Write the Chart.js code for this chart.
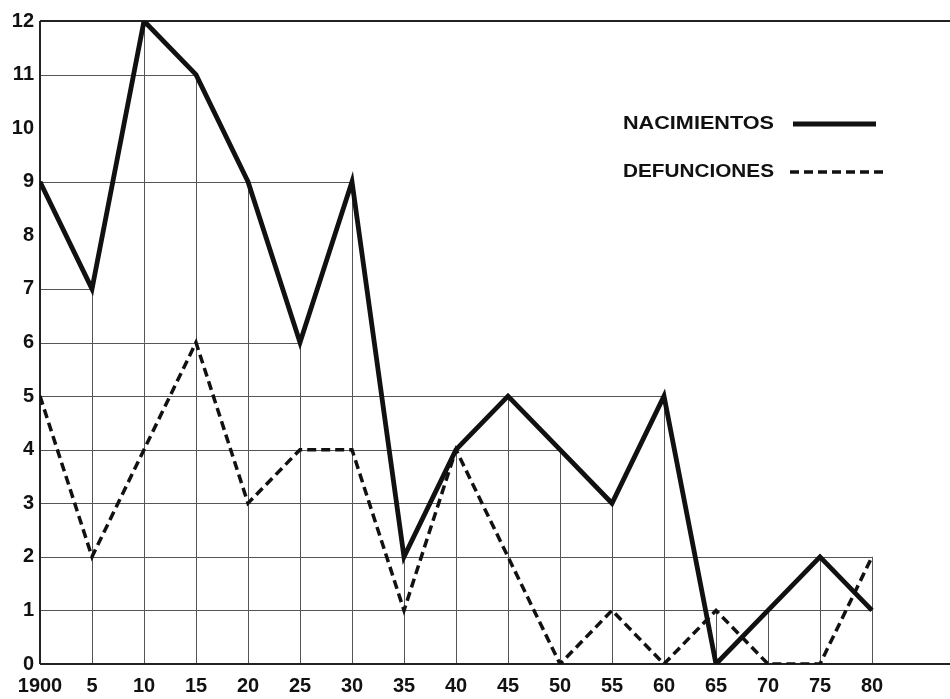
<!DOCTYPE html>
<html>
<head>
<meta charset="utf-8">
<script src="https://cdn.jsdelivr.net/npm/chart.js@4/dist/chart.umd.min.js"></script>
<style>
  html, body { margin: 0; padding: 0; background: #fff; }
  #wrap { width: 950px; height: 699px; position: relative; }
</style>
</head>
<body>
<div id="wrap"><canvas id="chart"></canvas></div>
<script>
// values
var years = [1900, 1905, 1910, 1915, 1920, 1925, 1930, 1935, 1940, 1945, 1950, 1955, 1960, 1965, 1970, 1975, 1980];
var yearLabels = ["1900", "5", "10", "15", "20", "25", "30", "35", "40", "45", "50", "55", "60", "65", "70", "75", "80"];
var nacimientos = [9, 7, 12, 11, 9, 6, 9, 2, 4, 5, 4, 3, 5, 0, 1, 2, 1];
var defunciones = [5, 2, 4, 6, 3, 4, 4, 1, 4, 2, 0, 1, 0, 1, 0, 0, 2];
var yTicks = [0, 1, 2, 3, 4, 5, 6, 7, 8, 9, 10, 11, 12];

var tickFont = { family: "'Liberation Sans', Arial, sans-serif", size: 20, weight: "bold" };

function points(vals) {
  var out = [];
  for (var i = 0; i < years.length; i++) out.push({ x: years[i], y: vals[i] });
  return out;
}

// stepped grid: drop lines up to each point, level lines out to the last point at that level
var gridPlugin = {
  id: "steppedGrid",
  beforeDatasetsDraw: function(chart) {
    var ctx = chart.ctx, xs = chart.scales.x, ys = chart.scales.y, area = chart.chartArea;
    ctx.save();
    ctx.strokeStyle = "#555";
    ctx.lineWidth = 1;
    for (var i = 1; i < years.length; i++) {
      var top = Math.max(nacimientos[i], defunciones[i]);
      var px = Math.round(xs.getPixelForValue(years[i])) + 0.5;
      ctx.beginPath();
      ctx.moveTo(px, ys.getPixelForValue(0));
      ctx.lineTo(px, ys.getPixelForValue(top));
      ctx.stroke();
    }
    for (var v = 1; v < 12; v++) {
      var last = -1;
      for (var j = 0; j < years.length; j++) {
        if (nacimientos[j] === v || defunciones[j] === v) last = j;
      }
      if (last < 0) continue;
      var py = Math.round(ys.getPixelForValue(v)) + 0.5;
      ctx.beginPath();
      ctx.moveTo(area.left, py);
      ctx.lineTo(xs.getPixelForValue(years[last]), py);
      ctx.stroke();
    }
    // frame: left axis, baseline, top line
    ctx.strokeStyle = "#222";
    ctx.lineWidth = 2;
    ctx.beginPath();
    ctx.moveTo(area.left, ys.getPixelForValue(0));
    ctx.lineTo(area.left, ys.getPixelForValue(12));
    ctx.moveTo(area.left, ys.getPixelForValue(0));
    ctx.lineTo(area.right, ys.getPixelForValue(0));
    ctx.moveTo(area.left, ys.getPixelForValue(12));
    ctx.lineTo(area.right, ys.getPixelForValue(12));
    ctx.stroke();
    ctx.restore();
  }
};

var legendPlugin = {
  id: "inlineLegend",
  afterDraw: function(chart) {
    var ctx = chart.ctx;
    var rows = [{ y: 124, x0: 793, x1: 876 }, { y: 172, x0: 790, x1: 886 }];
    ctx.save();
    ctx.font = "bold 19px 'Liberation Sans', Arial, sans-serif";
    ctx.fillStyle = "#111";
    ctx.textBaseline = "middle";
    chart.data.datasets.forEach(function(ds, i) {
      var r = rows[i];
      // the lettering is wide, stretch it to about 150px
      var w = ctx.measureText(ds.label).width;
      ctx.save();
      ctx.translate(623, r.y);
      ctx.scale(151 / w, 1);
      ctx.fillText(ds.label, 0, 0);
      ctx.restore();
      ctx.strokeStyle = ds.borderColor;
      ctx.lineWidth = ds.borderWidth;
      ctx.setLineDash(ds.borderDash || []);
      ctx.beginPath();
      ctx.moveTo(r.x0, r.y);
      ctx.lineTo(r.x1, r.y);
      ctx.stroke();
    });
    ctx.restore();
  }
};

new Chart(document.getElementById("chart"), {
  type: "line",
  data: {
    datasets: [
      {
        label: "NACIMIENTOS",
        data: points(nacimientos),
        borderColor: "#111",
        borderWidth: 4.8,
        pointRadius: 0,
        tension: 0,
        borderJoinStyle: "miter"
      },
      {
        label: "DEFUNCIONES",
        data: points(defunciones),
        borderColor: "#111",
        borderWidth: 3.5,
        borderDash: [9, 5],
        pointRadius: 0,
        tension: 0
      }
    ]
  },
  options: {
    responsive: true,
    maintainAspectRatio: false,
    animation: false,
    layout: { padding: { top: 21, right: 0, left: 0, bottom: 0 } },
    plugins: {
      legend: { display: false },
      tooltip: { enabled: false }
    },
    scales: {
      x: {
        type: "linear",
        min: 1900,
        max: 1987.5,
        grid: { display: false, tickLength: 0 },
        border: { display: false },
        afterBuildTicks: function(scale) {
          scale.ticks = years.map(function(y) { return { value: y }; });
        },
        afterFit: function(scale) { scale.height = 35; },
        ticks: {
          autoSkip: false,
          maxRotation: 0,
          padding: 10,
          color: "#111",
          font: tickFont,
          callback: function(value) {
            var k = years.indexOf(value);
            return k >= 0 ? yearLabels[k] : "";
          }
        }
      },
      y: {
        min: 0,
        max: 12,
        grid: { display: false, tickLength: 0 },
        border: { display: false },
        afterBuildTicks: function(scale) {
          scale.ticks = yTicks.map(function(v) { return { value: v }; });
        },
        afterFit: function(scale) { scale.width = 40; },
        ticks: {
          padding: 6,
          color: "#111",
          font: tickFont
        }
      }
    }
  },
  plugins: [gridPlugin, legendPlugin]
});
</script>
</body>
</html>
